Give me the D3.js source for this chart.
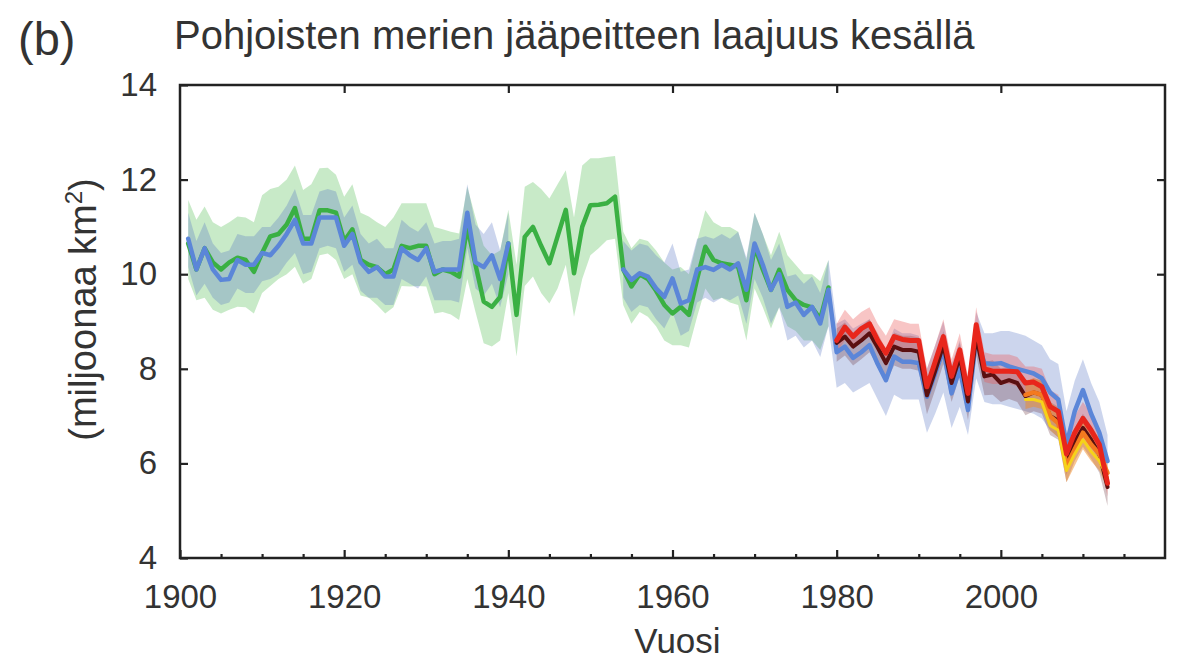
<!DOCTYPE html>
<html><head><meta charset="utf-8">
<script src="https://cdn.jsdelivr.net/npm/d3@7"></script>
<style>
body{margin:0;background:#fff}
svg{display:block}
text{font-family:"Liberation Sans",Arial,Helvetica,sans-serif;fill:#333}
</style>
</head><body>
<svg id="c" width="1178" height="664"></svg>
<script>
// ---------- DATA ----------
const xTicksMajor = [1900, 1920, 1940, 1960, 1980, 2000];
const xTicksMinor = [1905,1910,1915,1925,1930,1935,1945,1950,1955,1965,1970,1975,1985,1990,1995,2005,2010,2015];
const yTicks = [4, 6, 8, 10, 12, 14];

const greenStart = 1901;
const greenMean = [
 10.65,10.1,10.55,10.25,10.1,10.25,10.35,10.3,10.05,10.45,
 10.8,10.85,11.05,11.4,10.75,10.75,11.35,11.35,11.3,10.7,
 10.95,10.3,10.2,10.15,10.0,10.1,10.6,10.55,10.6,10.6,
 10.0,10.1,10.05,9.95,11.0,10.2,9.42,9.31,9.52,10.65,
 9.14,10.79,11.0,10.6,10.23,10.8,11.36,10.02,11.0,11.46,
 11.47,11.5,11.64,10.1,9.74,10.0,9.9,9.65,9.35,9.17,
 9.31,9.14,9.9,10.58,10.3,10.23,10.2,10.16,9.45,10.58,
 10.1,9.67,10.09,9.67,9.45,9.35,9.3,9.05,9.72];
const greenLo = [
 9.9,9.45,9.5,9.25,9.17,9.25,9.31,9.3,9.17,9.6,
 9.75,9.9,10.0,10.16,9.8,9.9,10.4,10.44,10.3,9.9,
 10.0,9.55,9.5,9.35,9.17,9.3,9.75,9.74,9.75,9.74,
 9.17,9.2,9.15,9.03,9.9,9.2,8.54,8.47,8.6,9.6,
 8.26,9.75,9.95,9.6,9.38,9.7,10.2,9.1,9.9,10.4,
 10.55,10.72,10.75,9.35,8.95,9.2,9.1,8.9,8.6,8.5,
 8.5,8.45,9.1,9.7,9.45,9.5,9.4,9.35,8.6,9.7,
 9.3,8.85,9.3,8.9,8.8,8.6,8.6,8.4,8.9];
const greenHi = [
 11.57,11.15,11.43,11.1,11.0,11.1,11.22,11.2,11.1,11.67,
 11.8,11.85,12.0,12.3,11.78,11.9,12.24,12.25,12.1,11.64,
 11.9,11.3,11.22,11.1,11.0,11.2,11.5,11.5,11.5,11.5,
 11.0,10.95,10.9,10.86,11.85,11.2,10.6,10.4,10.5,11.36,
 10.2,11.85,11.95,11.8,11.6,11.9,12.2,11.2,12.3,12.45,
 12.45,12.48,12.5,10.9,10.55,10.75,10.7,10.5,10.25,10.1,
 10.15,10.0,10.7,11.35,11.1,11.0,11.0,10.9,10.3,11.3,
 10.85,10.4,10.9,10.4,10.2,10.0,10.0,9.85,10.3];

const blueEarlyStart = 1901;
const blueEarly = [
 10.75,10.1,10.55,10.1,9.88,9.9,10.3,10.2,10.2,10.45,
 10.4,10.6,10.85,11.15,10.65,10.65,11.2,11.2,11.2,10.6,
 10.85,10.25,10.05,10.15,9.95,9.95,10.55,10.4,10.3,10.55,
 10.05,10.1,10.1,10.1,11.3,10.25,10.15,10.4,9.9,10.65];
const blueEarlyLo = [
 10.15,9.55,9.8,9.5,9.35,9.4,9.7,9.6,9.6,9.85,
 9.9,10.0,10.25,10.45,10.0,10.05,10.55,10.6,10.55,10.05,
 10.2,9.65,9.5,9.5,9.35,9.35,9.9,9.8,9.7,9.95,
 9.45,9.45,9.45,9.4,10.55,9.7,9.55,9.8,9.3,10.0];
const blueEarlyHi = [
 11.3,10.7,11.1,10.65,10.45,10.5,10.85,10.8,10.8,11.0,
 11.0,11.2,11.45,11.8,11.25,11.25,11.75,11.8,11.75,11.2,
 11.45,10.85,10.65,10.75,10.55,10.55,11.15,11.0,10.9,11.1,
 10.65,10.7,10.7,10.75,11.9,11.05,10.85,11.1,10.5,11.3];

const blueLateStart = 1954;
const blueLate = [
 10.1,9.88,10.02,9.95,9.7,9.52,9.91,9.38,9.45,10.1,
 10.15,10.09,10.2,10.1,10.23,9.67,10.65,10.2,9.67,10.0,
 9.31,9.4,9.14,9.31,8.96,9.67,8.35,8.47,8.23,8.35,
 8.5,8.1,7.76,8.26,8.15,8.15,8.12,7.41,7.9,8.4,
 7.48,8.0,7.13,8.68,8.12,8.1,8.12,8.05,8.0,7.95,
 7.9,7.8,7.5,7.35,6.4,7.1,7.55,7.05,6.65,6.05];
const blueLateLo = [
 9.5,9.2,9.35,9.3,9.05,8.85,9.2,8.7,8.8,9.4,
 9.5,9.4,9.5,9.45,9.55,8.95,9.9,9.5,8.95,9.3,
 8.6,8.7,8.45,8.6,8.25,8.9,7.6,7.7,7.5,7.6,
 7.7,7.35,7.0,7.45,7.35,7.35,7.35,6.65,7.05,7.5,
 6.75,7.2,6.6,7.8,7.3,7.25,7.25,7.2,7.15,7.1,
 7.05,6.95,6.7,6.55,5.75,6.4,6.85,6.4,6.0,5.5];
const blueLateHi = [
 10.7,10.5,10.65,10.6,10.4,10.25,10.65,10.05,10.1,10.75,
 10.8,10.75,10.85,10.75,10.9,10.35,11.3,10.85,10.3,10.65,
 9.95,10.0,9.8,9.95,9.6,10.3,8.95,9.05,8.85,8.95,
 9.05,8.7,8.4,8.85,8.75,8.75,8.7,8.0,8.5,9.0,
 8.1,8.6,7.75,9.2,8.75,8.75,8.8,8.8,8.75,8.7,
 8.6,8.5,8.2,8.1,7.1,7.75,8.2,7.7,7.3,6.6];

const satStart = 1980;
const red = [
 8.6,8.88,8.68,8.85,8.95,8.6,8.33,8.68,8.62,8.6,
 8.6,7.62,8.15,8.68,7.84,8.4,7.48,8.93,8.0,7.95,
 7.95,7.95,7.94,7.7,7.72,7.62,7.2,7.1,6.2,6.65,
 6.95,6.7,6.4,5.58];
const redLo = [
 8.35,8.6,8.42,8.58,8.68,8.35,8.05,8.42,8.35,8.35,
 8.33,7.35,7.88,8.4,7.56,8.12,7.2,8.65,7.72,7.68,
 7.68,7.68,7.63,7.43,7.45,7.38,6.92,6.82,5.92,6.38,
 6.68,6.43,6.12,5.3];
const redHi = [
 8.95,9.25,9.05,9.2,9.3,8.95,8.7,9.05,9.0,8.95,
 8.95,8.0,8.5,9.05,8.2,8.75,7.85,9.3,8.35,8.3,
 8.3,8.3,8.25,8.05,8.05,8.0,7.55,7.45,6.55,7.0,
 7.3,7.05,6.75,5.9];
const dark = [
 8.55,8.68,8.47,8.6,8.75,8.45,8.12,8.47,8.4,8.4,
 8.36,7.44,7.95,8.5,7.7,8.25,7.31,8.68,7.84,7.88,
 7.7,7.76,7.7,7.42,7.5,7.45,7.0,6.9,6.0,6.45,
 6.75,6.5,6.2,5.5];
const darkLo = [
 8.15,8.28,8.07,8.2,8.35,8.05,7.72,8.07,8.0,8.0,
 7.96,7.04,7.55,8.1,7.3,7.85,6.91,8.28,7.44,7.45,
 7.3,7.36,7.3,7.02,7.1,7.05,6.6,6.5,5.6,6.05,
 6.35,6.1,5.8,5.1];
const darkHi = [
 8.85,8.98,8.77,8.9,9.05,8.75,8.42,8.77,8.7,8.7,
 8.66,7.74,8.25,8.8,8.0,8.55,7.61,8.98,8.14,8.18,
 8.0,8.06,8.0,7.72,7.8,7.75,7.3,7.2,6.3,6.75,
 7.05,6.8,6.5,5.8];

const recentStart = 2003;
const orange = [7.45,7.5,7.45,7.0,6.85,5.95,6.3,6.65,6.4,6.2,5.8];
const orangeLo = [7.15,7.2,7.15,6.7,6.55,5.6,5.95,6.3,6.05,5.85,5.45];
const orangeHi = [7.75,7.8,7.75,7.3,7.15,6.3,6.65,7.0,6.75,6.55,6.1];
const yellow = [7.35,7.35,7.3,6.8,6.7,5.85,6.2,6.5,6.25,6.05,5.7];

// ---------- CHART ----------
const svg = d3.select('#c');
const x = d3.scaleLinear().domain([1900, 2020]).range([180, 1165]);
const y = d3.scaleLinear().domain([4, 14]).range([558, 85]);

const pts = (start, arr) => arr.map((v, i) => ({yr: start + i, v}));
const band = (start, lo, hi) => lo.map((l, i) => ({yr: start + i, lo: l, hi: hi[i]}));
const area = d3.area().x(d => x(d.yr)).y0(d => y(d.lo)).y1(d => y(d.hi));
const line = d3.line().x(d => x(d.yr)).y(d => y(d.v));

const g = svg.append('g');
// bands
g.append('path').attr('d', area(band(greenStart, greenLo, greenHi))).attr('fill', 'rgb(125,205,125)').attr('fill-opacity', 0.42);
g.append('path').attr('d', area(band(blueEarlyStart, blueEarlyLo, blueEarlyHi))).attr('fill', 'rgb(85,115,195)').attr('fill-opacity', 0.3);
g.append('path').attr('d', area(band(blueLateStart, blueLateLo, blueLateHi))).attr('fill', 'rgb(85,115,195)').attr('fill-opacity', 0.3);
g.append('path').attr('d', area(band(satStart, darkLo, darkHi))).attr('fill', 'rgb(110,55,65)').attr('fill-opacity', 0.3);
g.append('path').attr('d', area(band(satStart, redLo, redHi))).attr('fill', 'rgb(235,90,90)').attr('fill-opacity', 0.35);
g.append('path').attr('d', area(band(recentStart, orangeLo, orangeHi))).attr('fill', 'rgb(240,140,40)').attr('fill-opacity', 0.5);

// lines
const drawLine = (data, color, w) => g.append('path').attr('d', line(data)).attr('fill', 'none')
  .attr('stroke', color).attr('stroke-width', w).attr('stroke-linejoin', 'round').attr('stroke-linecap', 'round');
drawLine(pts(greenStart, greenMean), '#3ab043', 4.5);
drawLine(pts(blueEarlyStart, blueEarly), '#5b86d8', 4.5);
drawLine(pts(blueLateStart, blueLate), '#5b86d8', 4.5);
drawLine(pts(satStart, dark), '#5a1010', 4);
drawLine(pts(recentStart, orange), '#f47a1f', 4.5);
drawLine(pts(recentStart, yellow), '#f6d21a', 3);
drawLine(pts(satStart, red), '#e8261c', 5);

// axes
const axG = svg.append('g').attr('class', 'axes');
axG.append('g').attr('transform', `translate(0,${y(4)})`)
  .call(d3.axisBottom(x).tickValues(xTicksMajor).tickSize(-8).tickPadding(27).tickFormat(d3.format('d')));
axG.append('g').attr('transform', `translate(0,${y(4)})`)
  .call(d3.axisBottom(x).tickValues(xTicksMinor).tickSize(-4).tickFormat(''));
axG.append('g').attr('transform', `translate(0,${y(14)})`)
  .call(d3.axisTop(x).tickValues(xTicksMajor.slice(1)).tickSize(-8).tickFormat(''));
axG.append('g').attr('transform', `translate(${x(1900)},0)`)
  .call(d3.axisLeft(y).tickValues(yTicks).tickSize(-8).tickPadding(23).tickFormat(d3.format('d')));
axG.append('g').attr('transform', `translate(${x(2020)},0)`)
  .call(d3.axisRight(y).tickValues(yTicks.slice(1, -1)).tickSize(-8).tickFormat(''));
axG.selectAll('.domain').remove();
axG.selectAll('.tick line').attr('stroke', '#222').attr('stroke-width', 2.2);
axG.selectAll('.tick text').attr('font-size', 33).attr('fill', '#3a3a3a')
  .attr('font-family', '"Liberation Sans",Arial,sans-serif');

// frame
svg.append('rect').attr('x', x(1900)).attr('y', y(14))
  .attr('width', x(2020) - x(1900)).attr('height', y(4) - y(14))
  .attr('fill', 'none').attr('stroke', '#222').attr('stroke-width', 2.5);

// labels
svg.append('text').attr('x', 18).attr('y', 55).attr('font-size', 47).attr('fill', '#333').text('(b)');
svg.append('text').attr('x', 174).attr('y', 49).attr('font-size', 40).attr('fill', '#3a3a3a')
  .text('Pohjoisten merien jääpeitteen laajuus kesällä');
svg.append('text').attr('x', (x(1900) + x(2020)) / 2 + 5).attr('y', 653).attr('text-anchor', 'middle')
  .attr('font-size', 35).attr('fill', '#3a3a3a').text('Vuosi');
const yl = svg.append('text').attr('transform', `translate(96,${(y(4) + y(14)) / 2 - 12}) rotate(-90)`)
  .attr('text-anchor', 'middle').attr('font-size', 38).attr('fill', '#3a3a3a');
yl.append('tspan').text('(miljoonaa km');
yl.append('tspan').attr('font-size', 24).attr('dy', -14).text('2');
yl.append('tspan').attr('dy', 14).text(')');
</script>
</body></html>
